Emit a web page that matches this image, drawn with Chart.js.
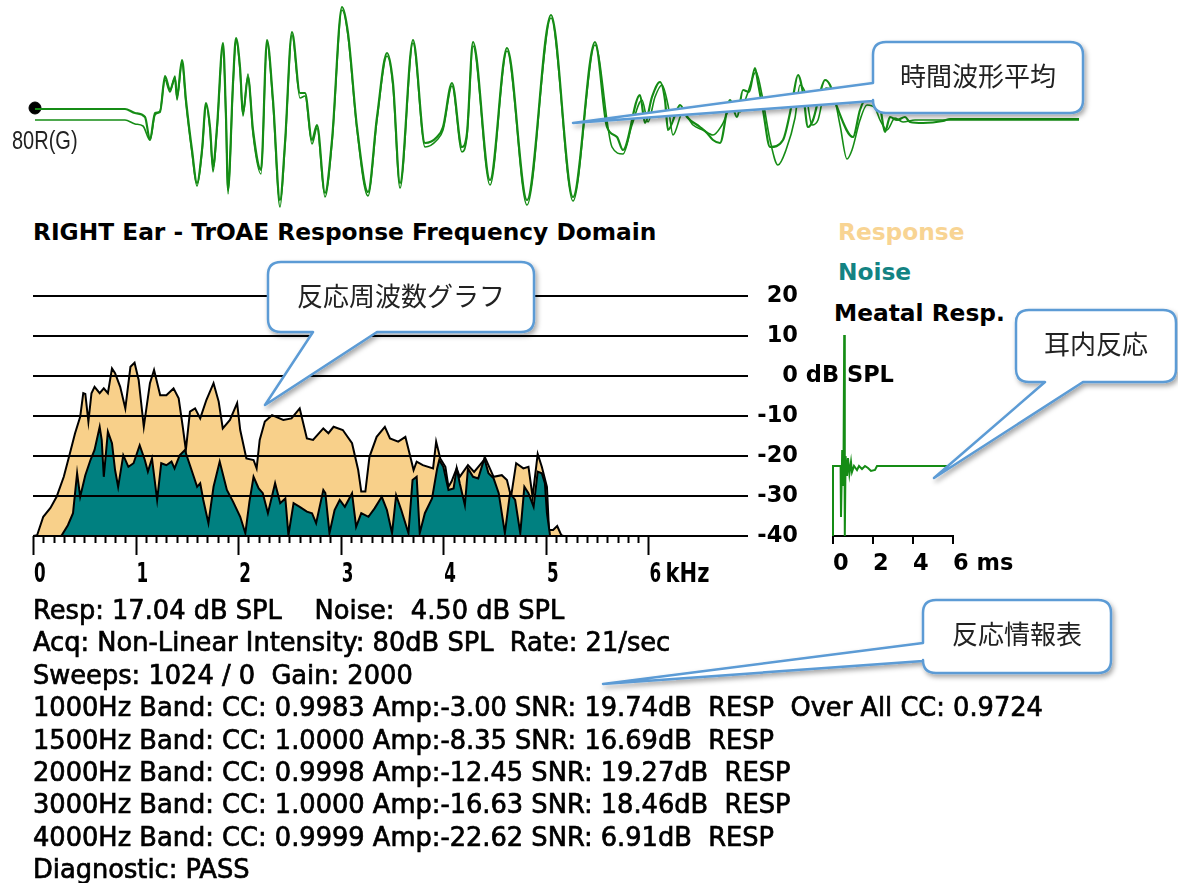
<!DOCTYPE html>
<html>
<head>
<meta charset="utf-8">
<script src="https://cdn.jsdelivr.net/npm/chart.js@4.4.0/dist/chart.umd.min.js"></script>
<style>
  body { margin: 0; background: #fff; width: 1178px; height: 883px; overflow: hidden; position: relative; font-family: "DejaVu Sans", sans-serif; color: #000; }
  .abs { position: absolute; }
  .hdr { font-weight: bold; font-size: 23.3px; line-height: 28px; white-space: pre; }
  #info { left: 33px; top: 594px; font-size: 25.7px; line-height: 32.4px; white-space: pre; -webkit-text-stroke: 0.7px #000; }
  #chan { left: 12px; top: 126px; font-family: "Liberation Sans", sans-serif; font-size: 25px; transform: scaleX(0.8); transform-origin: left top; color: #222; }
  svg { position: absolute; left: 0; top: 0; pointer-events: none; }
</style>
</head>
<body>
<canvas id="wave" class="abs" width="1178" height="215" style="left:0;top:0"></canvas>
<div id="chan" class="abs">80R(G)</div>

<div class="abs hdr" style="left:33px;top:218px">RIGHT Ear - TrOAE Response Frequency Domain</div>
<div class="abs hdr" style="left:838px;top:218px;color:#f8d493">Response</div>
<div class="abs hdr" style="left:838px;top:258px;color:#138383">Noise</div>
<div class="abs hdr" style="left:834px;top:299px">Meatal Resp.</div>

<canvas id="spectrum" class="abs" width="900" height="320" style="left:0;top:280px"></canvas>
<canvas id="meatal" class="abs" width="260" height="320" style="left:800px;top:280px"></canvas>

<div id="info" class="abs"></div>
<svg id="notes" width="1178" height="883"></svg>

<script>
// averaged time waveform, two buffers (ms, arbitrary amplitude)
const waveTimeA = [0, 1.8, 2.0, 2.2, 2.3, 2.4, 2.5, 2.6, 2.7, 2.8, 2.84, 2.94, 3.02, 3.14, 3.24, 3.34, 3.42, 3.5, 3.56, 3.64,
  3.76, 3.82, 3.86, 3.96, 4.02, 4.1, 4.16, 4.26, 4.36, 4.52, 4.64, 4.76, 4.9, 5.0, 5.14, 5.3, 5.4, 5.54, 5.64, 5.8,
  5.94, 6.14, 6.26, 6.44, 6.66, 6.84, 7.04, 7.16, 7.3, 7.56, 7.8, 8.04, 8.16, 8.34, 8.54, 8.64, 8.76, 9.1, 9.44, 9.84,
  10.32, 10.76, 11.2, 11.44, 11.64, 11.76, 12.1, 12.2, 12.34, 12.5, 12.6, 12.66, 12.84, 12.9, 13.04, 13.3, 13.44, 13.56, 13.7, 13.9,
  14.04, 14.16, 14.28, 14.4, 14.46, 14.56, 14.7, 14.96, 15.1, 15.16, 15.26, 15.36, 15.46, 15.56, 15.7, 15.8, 15.9, 16.04, 16.36, 16.5,
  16.64, 16.76, 16.9, 17.0, 17.1, 17.24, 17.4, 17.5, 17.76, 18.16, 18.3, 20.88];
const waveAmpA = [1.1, 1.1, 0.7, 0.3, -2.0, 0.7, 0.8, 4.4, 3.0, 4.2, 2.3, 6.0, 2.0, -3.0, -6.3, -3.0, 1.7, -0.7, -4.7, -0.7,
  7.7, 0.3, -7.0, 3.7, 8.2, 5.3, 0.7, 4.3, -1.0, -5.0, 8.0, 2.0, -8.0, -2.3, 8.8, 2.7, 2.7, -2.0, -0.5, -7.3,
  -2.0, 11.3, 8.7, -0.7, -7.2, 0.3, 6.7, 3.7, -6.3, 8.0, -2.3, -1.7, -0.7, 3.7, -2.7, -1.3, 7.8, -6.0, 7.2, -8.0,
  10.5, -7.7, 7.8, -0.7, -1.7, -3.0, 2.5, -0.3, 2.3, 3.8, 2.0, -1.0, 1.0, 1.5, 0.3, -0.7, -1.3, -2.0, -2.3, 2.0,
  0.3, 3.0, 2.8, 5.2, 3.7, 1.0, -2.7, -2.0, 0.7, 2.3, 4.5, 2.7, -0.7, 0.0, 2.7, 4.0, 3.5, 1.3, -1.7, 1.0,
  2.3, 2.0, 1.3, -1.2, 0.3, 0.0, 0.3, -0.2, -0.3, -0.1, 0.1, 0.1];

const waveTimeB = [0, 1.8, 2.0, 2.16, 2.3, 2.4, 2.5, 2.6, 2.7, 2.8, 2.84, 2.94, 3.02, 3.14, 3.24, 3.34, 3.42, 3.5, 3.56, 3.64,
  3.76, 3.82, 3.86, 3.96, 4.02, 4.1, 4.16, 4.26, 4.36, 4.52, 4.64, 4.76, 4.9, 5.0, 5.14, 5.3, 5.4, 5.54, 5.64, 5.8,
  5.94, 6.14, 6.26, 6.44, 6.66, 6.84, 7.04, 7.16, 7.3, 7.56, 7.8, 8.04, 8.16, 8.34, 8.54, 8.64, 8.76, 9.1, 9.44, 9.84,
  10.32, 10.76, 11.2, 11.54, 11.76, 11.94, 12.14, 12.26, 12.4, 12.54, 12.66, 12.76, 12.96, 13.16, 13.36, 13.56, 13.74, 13.96, 14.1, 14.24,
  14.42, 14.54, 14.7, 14.86, 15.02, 15.2, 15.3, 15.42, 15.54, 15.66, 15.82, 15.94, 16.1, 16.24, 16.34, 16.5, 16.64, 16.8, 16.9, 17.04,
  17.2, 17.36, 17.6, 20.88];
const waveAmpB = [0, 0, -0.4, -0.6, -2.0, 0.5, 0.9, 4.0, 2.8, 4.4, 2.0, 5.8, 1.6, -3.3, -6.6, -3.2, 1.4, -1.0, -5.2, -1.0,
  7.3, 0.0, -7.4, 3.4, 8.0, 5.0, 0.4, 4.6, -1.4, -5.4, 7.7, 1.6, -8.7, -2.6, 8.5, 2.2, 2.4, -2.4, -0.8, -7.7,
  -2.3, 11.0, 8.4, -1.0, -7.6, 0.0, 6.4, 3.3, -6.8, 7.7, -2.7, -2.0, -1.0, 3.4, -3.2, -1.6, 7.4, -6.5, 6.9, -8.5,
  10.2, -8.1, 7.5, -2.7, -3.4, -0.5, 2.0, -0.2, 2.3, 3.5, 1.5, -1.5, 0.8, -0.5, -1.0, -1.5, -0.5, 1.7, 0.8, 2.5,
  4.8, 2.5, -2.0, -4.5, -3.0, 0.2, 3.5, 2.5, -0.5, 0.0, 3.2, 3.0, -0.5, -3.9, -3.0, 0.0, 1.5, 1.2, 0.0, -1.0,
  0.2, -0.2, 0.0, 0.0];
const stimulusMark = [0, 1.2];

// response / noise spectrum (kHz, dB SPL)
const respKHz = [0, 0.04, 0.10, 0.17, 0.23, 0.30, 0.36, 0.41, 0.46, 0.49, 0.51, 0.54, 0.57, 0.60, 0.65, 0.69, 0.73, 0.77, 0.80, 0.85,
  0.90, 0.95, 0.99, 1.03, 1.08, 1.14, 1.18, 1.24, 1.30, 1.37, 1.42, 1.46, 1.49, 1.53, 1.58, 1.63, 1.69, 1.76, 1.81, 1.85,
  1.92, 1.99, 2.02, 2.08, 2.15, 2.18, 2.21, 2.26, 2.33, 2.44, 2.52, 2.60, 2.67, 2.73, 2.83, 2.88, 2.93, 3.02, 3.11, 3.17,
  3.20, 3.24, 3.28, 3.35, 3.43, 3.48, 3.56, 3.63, 3.67, 3.71, 3.74, 3.80, 3.90, 3.93, 3.97, 4.02, 4.05, 4.08, 4.13, 4.16,
  4.24, 4.30, 4.41, 4.49, 4.57, 4.62, 4.66, 4.71, 4.78, 4.83, 4.87, 4.92, 4.96, 5.01, 5.03, 5.07, 5.11, 5.15, 5.17];
const respDB = [-40, -39.8, -35.2, -33.0, -30.2, -25.2, -19.3, -14.3, -10.2, -4.3, -4.5, -11.4, -4.3, -2.7, -4.3, -3.1, -4.3, 1.9, 0.7, -2.7,
  -8.1, 2.3, 3.3, -1.0, -12.7, -1.8, 1.5, -4.8, -4.8, -3.1, -5.6, -12.7, -18.5, -8.9, -8.1, -10.6, -6.0, -1.8, -6.4, -13.1,
  -11.0, -6.8, -13.5, -20.6, -21.0, -23.1, -16.0, -11.4, -9.8, -11.0, -10.6, -8.1, -15.6, -16.0, -13.1, -14.3, -12.7, -13.5, -16.8, -23.5,
  -28.9, -28.9, -20.2, -15.2, -12.7, -15.6, -16.4, -15.2, -19.3, -23.5, -21.4, -22.3, -23.1, -16.4, -20.6, -22.7, -27.7, -26.4, -23.1, -25.2,
  -22.3, -24.0, -20.6, -25.2, -24.8, -26.0, -30.2, -21.8, -23.1, -22.7, -30.2, -19.5, -22.7, -27.7, -38.5, -38.5, -37.5, -39.8, -40];

const noiseKHz = [0.27, 0.28, 0.34, 0.39, 0.43, 0.46, 0.51, 0.56, 0.60, 0.65, 0.67, 0.69, 0.73, 0.77, 0.80, 0.83, 0.88, 0.93, 0.98, 1.04,
  1.09, 1.12, 1.16, 1.21, 1.25, 1.30, 1.35, 1.38, 1.43, 1.48, 1.53, 1.60, 1.63, 1.66, 1.71, 1.76, 1.82, 1.89, 1.95, 2.02,
  2.07, 2.11, 2.15, 2.20, 2.24, 2.29, 2.36, 2.41, 2.46, 2.49, 2.54, 2.60, 2.67, 2.72, 2.76, 2.83, 2.85, 2.89, 2.94, 2.99,
  3.04, 3.11, 3.15, 3.20, 3.27, 3.33, 3.40, 3.45, 3.50, 3.54, 3.59, 3.66, 3.70, 3.74, 3.77, 3.82, 3.89, 3.94, 3.96, 4.00,
  4.05, 4.10, 4.13, 4.16, 4.21, 4.24, 4.29, 4.34, 4.40, 4.44, 4.49, 4.54, 4.60, 4.65, 4.70, 4.75, 4.79, 4.83, 4.88, 4.92,
  4.96, 4.99, 5.01, 5.04, 5.05];
const noiseDB = [-40, -39.8, -37.3, -34.3, -24.3, -30.2, -24.8, -21.0, -18.5, -12.7, -16.0, -25.2, -13.9, -16.8, -23.5, -27.7, -19.8, -22.7, -21.8, -17.3,
  -21.0, -23.9, -20.6, -31.0, -21.8, -22.3, -21.4, -23.1, -19.8, -18.5, -22.3, -27.7, -26.8, -31.0, -36.8, -27.7, -21.4, -28.5, -31.4, -35.2,
  -39.3, -31.4, -25.2, -28.1, -29.3, -34.3, -26.8, -31.8, -30.6, -39.8, -31.8, -32.7, -33.9, -34.3, -36.8, -28.5, -29.3, -39.3, -33.5, -31.0,
  -32.7, -29.3, -37.7, -34.3, -35.2, -33.1, -30.2, -33.5, -39.3, -29.8, -33.5, -39.3, -26.0, -25.2, -39.3, -34.3, -30.6, -23.1, -21.0, -22.7,
  -28.5, -28.1, -23.1, -26.8, -32.3, -23.1, -25.2, -25.6, -20.6, -24.3, -25.6, -29.3, -39.3, -29.3, -31.0, -39.3, -27.7, -29.3, -32.7, -23.9,
  -24.3, -26.8, -34.3, -39.8, -40];

const freqTicks = [0, 1, 2, 3, 4, 5, 6];
const freqLabels = ['0', '1', '2', '3', '4', '5', '6 kHz'];
const dbTicks = [20, 10, 0, -10, -20, -30, -40];

// meatal (ear canal) response (ms, relative)
const meatalMs = [0, 0, 0.38, 0.40, 0.46, 0.52, 0.56, 0.59, 0.63, 0.70, 0.75, 0.82, 0.90, 0.95, 1.05, 1.20, 1.30, 1.45, 1.60, 1.75, 1.90, 2.10, 2.20, 5.80];
const meatalVal = [-0.35, 0, 0, -0.255, 0.08, -0.1, 0.655, -0.35, 0.05, -0.05, 0.04, -0.04, 0.02, -0.03, 0, -0.02, 0, -0.015, 0, -0.01, -0.025, -0.02, 0, 0];
const msTicks = [0, 2, 4, 6];

const infoLines = [
  'Resp: 17.04 dB SPL    Noise:  4.50 dB SPL',
  'Acq: Non-Linear Intensity: 80dB SPL  Rate: 21/sec',
  'Sweeps: 1024 / 0  Gain: 2000',
  '1000Hz Band: CC: 0.9983 Amp:-3.00 SNR: 19.74dB  RESP  Over All CC: 0.9724',
  '1500Hz Band: CC: 1.0000 Amp:-8.35 SNR: 16.69dB  RESP',
  '2000Hz Band: CC: 0.9998 Amp:-12.45 SNR: 19.27dB  RESP',
  '3000Hz Band: CC: 1.0000 Amp:-16.63 SNR: 18.46dB  RESP',
  '4000Hz Band: CC: 0.9999 Amp:-22.62 SNR: 6.91dB  RESP',
  'Diagnostic: PASS'
];

const pts = (xs, ys) => xs.map((x, i) => ({x: x, y: ys[i]}));
const GREEN = '#158c15';
const axisFont = {family: 'DejaVu Sans', size: 22.5, weight: 'bold'};
const quiet = {legend: {display: false}, tooltip: {enabled: false}};
// keep label overflow from shrinking the plot area
const noOverflow = s => { s.paddingTop = 0; s.paddingBottom = 0; s.paddingLeft = 0; s.paddingRight = 0; };

// ---------- waveform ----------
new Chart(document.getElementById('wave'), {
  type: 'line',
  data: {
    datasets: [
      {data: pts(waveTimeA, waveAmpA), borderColor: GREEN, borderWidth: 2.2, pointRadius: 0, cubicInterpolationMode: 'monotone', clip: false},
      {data: pts(waveTimeB, waveAmpB), borderColor: GREEN, borderWidth: 1.6, pointRadius: 0, cubicInterpolationMode: 'monotone', clip: false},
      {data: [{x: stimulusMark[0], y: stimulusMark[1]}], showLine: false, pointRadius: 6, pointBackgroundColor: '#000', pointBorderColor: '#000', clip: false}
    ]
  },
  options: {
    responsive: false, animation: false, events: [],
    layout: {autoPadding: false, padding: {left: 35, right: 93, top: 0, bottom: 5}},
    scales: {
      x: {type: 'linear', display: false, min: 0, max: 21},
      y: {display: false, min: -9, max: 12}
    },
    plugins: quiet
  }
});

// ---------- spectrum ----------
const freqAxis = {
  id: 'freqAxis',
  afterDraw(chart) {
    const {ctx, chartArea} = chart;
    const x = chart.scales.x;
    const base = chartArea.bottom;
    ctx.save();
    ctx.strokeStyle = '#000';
    ctx.lineWidth = 2;
    for (let i = 0; i <= 60; i++) {
      const px = Math.round(x.getPixelForValue(i / 10)) + 0.5;
      ctx.beginPath();
      ctx.moveTo(px, base);
      ctx.lineTo(px, base + (i % 10 === 0 ? 19 : 7));
      ctx.stroke();
    }
    // narrow bold figures under the major ticks
    ctx.fillStyle = '#000';
    ctx.font = 'bold 27px "DejaVu Sans"';
    ctx.textBaseline = 'alphabetic';
    freqTicks.forEach((v, i) => {
      const [num, unit] = freqLabels[i].split(' ');
      const px = x.getPixelForValue(v) + 1;
      ctx.save();
      ctx.translate(px, base + 46);
      ctx.scale(0.62, 1);
      ctx.fillText(num, 0, 0);
      ctx.restore();
      if (unit) {
        ctx.save();
        ctx.translate(px + 16, base + 46);
        ctx.scale(0.78, 1);
        ctx.fillText(unit, 0, 0);
        ctx.restore();
      }
    });
    ctx.restore();
  }
};

const dbSuffix = {
  id: 'dbSuffix',
  afterDraw(chart) {
    const y = chart.scales.y;
    const ctx = chart.ctx;
    ctx.save();
    ctx.font = 'bold 22.5px "DejaVu Sans"';
    ctx.fillStyle = '#000';
    ctx.textBaseline = 'middle';
    ctx.fillText(' dB SPL', y.right, y.getPixelForValue(0));
    ctx.restore();
  }
};

new Chart(document.getElementById('spectrum'), {
  type: 'line',
  data: {
    datasets: [
      {label: 'Noise', data: pts(noiseKHz, noiseDB), order: 1, backgroundColor: '#008080', fill: 'start'},
      {label: 'Response', data: pts(respKHz, respDB), order: 2, backgroundColor: '#f8d08a', fill: 'start'}
    ]
  },
  options: {
    responsive: false, animation: false, events: [],
    layout: {autoPadding: false, padding: {left: 33, right: 102, top: 16, bottom: 0}},
    elements: {line: {borderColor: '#000', borderWidth: 2, tension: 0}, point: {radius: 0}},
    scales: {
      x: {
        type: 'linear', min: 0, max: 6.97,
        ticks: {display: false}, grid: {display: false}, border: {display: false},
        afterFit(s) { s.height = 64; noOverflow(s); }
      },
      y: {
        position: 'right', min: -40, max: 20,
        afterBuildTicks(s) { s.ticks = dbTicks.map(v => ({value: v})); },
        ticks: {padding: 9, color: '#000', font: axisFont, crossAlign: 'far'},
        grid: {color: '#000', lineWidth: 2, drawTicks: false, z: 1},
        border: {display: false},
        afterFit(s) { s.width = 50; noOverflow(s); }
      }
    },
    plugins: quiet
  },
  plugins: [freqAxis, dbSuffix]
});

// ---------- meatal response ----------
new Chart(document.getElementById('meatal'), {
  type: 'line',
  data: {
    datasets: [{data: pts(meatalMs, meatalVal), borderColor: GREEN, borderWidth: 2, pointRadius: 0, tension: 0, clip: false}]
  },
  options: {
    responsive: false, animation: false, events: [],
    layout: {autoPadding: false, padding: {left: 33, right: 107, top: 16, bottom: 0}},
    scales: {
      x: {
        type: 'linear', min: 0, max: 6,
        afterBuildTicks(s) { s.ticks = msTicks.map(v => ({value: v})); },
        ticks: {align: 'start', padding: 7, maxRotation: 0, minRotation: 0, autoSkip: false, color: '#000', font: axisFont,
          callback: v => (v === 6 ? '6 ms' : String(v))},
        grid: {drawOnChartArea: false, drawTicks: true, tickLength: 8, color: '#000', lineWidth: 2},
        border: {display: true, color: '#000', width: 2},
        afterFit(s) { s.height = 64; noOverflow(s); }
      },
      y: {display: false, min: -0.35, max: 0.85}
    },
    plugins: quiet
  }
});

// ---------- result text ----------
document.getElementById('info').textContent = infoLines.join('\n');

// ---------- callouts ----------
const notes = [
  {text: '時間波形平均', x: 873, y: 42, w: 210, h: 71, edge: 'left', a: 83, b: 101, tip: [573, 123]},
  {text: '反応周波数グラフ', x: 268, y: 262, w: 266, h: 70, edge: 'bottom', a: 313, b: 377, tip: [265, 405]},
  {text: '耳内反応', x: 1016, y: 310, w: 160, h: 72, edge: 'bottom', a: 1045, b: 1083, tip: [934, 478]},
  {text: '反応情報表', x: 923, y: 600, w: 188, h: 73, edge: 'left', a: 643, b: 661, tip: [603, 684]}
];

function notePath(c) {
  const r = 13, R = c.x + c.w, B = c.y + c.h;
  const [tx, ty] = c.tip;
  let d = `M${c.x + r},${c.y} H${R - r} Q${R},${c.y} ${R},${c.y + r} V${B - r} Q${R},${B} ${R - r},${B}`;
  if (c.edge === 'bottom') d += ` H${c.b} L${tx},${ty} L${c.a},${B}`;
  d += ` H${c.x + r} Q${c.x},${B} ${c.x},${B - r}`;
  if (c.edge === 'left') d += ` V${c.b} L${tx},${ty} L${c.x},${c.a}`;
  d += ` V${c.y + r} Q${c.x},${c.y} ${c.x + r},${c.y} Z`;
  return d;
}

const svg = document.getElementById('notes');
const NS = 'http://www.w3.org/2000/svg';
svg.innerHTML = '<defs><filter id="sh" x="-20%" y="-20%" width="140%" height="140%">' +
  '<feDropShadow dx="2" dy="3" stdDeviation="2.5" flood-color="#000" flood-opacity="0.35"/></filter></defs>';
notes.forEach(c => {
  const p = document.createElementNS(NS, 'path');
  p.setAttribute('d', notePath(c));
  p.setAttribute('fill', '#fff');
  p.setAttribute('stroke', '#5b9bd5');
  p.setAttribute('stroke-width', '2.5');
  p.setAttribute('stroke-linejoin', 'round');
  p.setAttribute('filter', 'url(#sh)');
  svg.appendChild(p);
  const t = document.createElementNS(NS, 'text');
  t.setAttribute('x', c.x + c.w / 2);
  t.setAttribute('y', c.y + 32);
  t.setAttribute('text-anchor', 'middle');
  t.setAttribute('dominant-baseline', 'central');
  t.setAttribute('font-family', '"Noto Sans CJK JP", sans-serif');
  t.setAttribute('font-size', '26');
  t.setAttribute('fill', '#222');
  t.textContent = c.text;
  svg.appendChild(t);
});
</script>
</body>
</html>
